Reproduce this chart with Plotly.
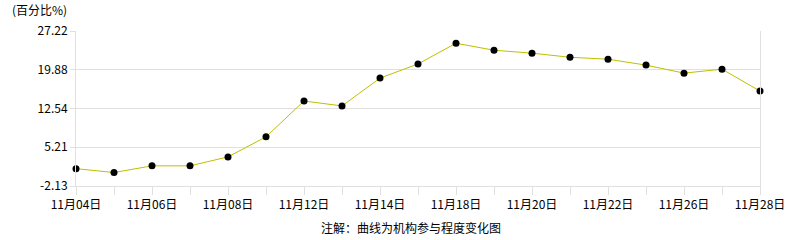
import plotly.graph_objects as go

dates = ["11月04日", "11月05日", "11月06日", "11月07日", "11月08日", "11月11日", "11月12日",
         "11月13日", "11月14日", "11月15日", "11月18日", "11月19日", "11月20日", "11月21日",
         "11月22日", "11月25日", "11月26日", "11月27日", "11月28日"]
values = [1.15, 0.42, 1.69, 1.69, 3.38, 7.18, 13.97, 13.03, 18.30, 20.98, 24.90, 23.58,
          23.02, 22.25, 21.88, 20.76, 19.24, 19.99, 15.85]
y_ticks = [-2.13, 5.2075, 12.545, 19.8825, 27.22]
y_tick_labels = ["-2.13", "5.21", "12.54", "19.88", "27.22"]
x_tick_labels = [d if i % 2 == 0 else "" for i, d in enumerate(dates)]

grid = "#e0e0e0"
font = "SimSun, 'Noto Sans CJK SC', sans-serif"

fig = go.Figure(go.Scatter(
    x=dates, y=values, mode="lines+markers",
    line=dict(color="#bfbf00", width=1),
    marker=dict(color="#000000", size=7),
    cliponaxis=False,
))

fig.update_layout(
    width=786, height=240,
    margin=dict(l=76, r=26, t=31, b=54),
    paper_bgcolor="white", plot_bgcolor="white",
    showlegend=False,
    font=dict(family=font, size=12, color="#000000"),
    xaxis=dict(
        type="category", range=[0, len(dates) - 1],
        tickvals=dates, ticktext=x_tick_labels, automargin=False,
        showgrid=False, showline=True, linecolor=grid, linewidth=1,
        ticks="outside", ticklen=8, tickcolor=grid, tickwidth=1,
        tickfont=dict(family=font, size=12, color="#000"),
        zeroline=False, mirror=False,
    ),
    yaxis=dict(
        range=[-2.13, 27.22], tickvals=y_ticks, ticktext=y_tick_labels, automargin=False,
        showgrid=True, gridcolor=grid, gridwidth=1,
        showline=True, linecolor=grid, linewidth=1, mirror=True,
        ticks="outside", ticklen=5, tickcolor=grid,
        tickfont=dict(family=font, size=12, color="#000"),
        zeroline=False,
    ),
    annotations=[
        dict(text="(百分比%)", xref="paper", yref="paper", x=-76/684 + 10/684, y=1 + 22/155,
             xanchor="left", yanchor="middle", showarrow=False,
             font=dict(family=font, size=12, color="#000")),
        dict(text="注解：曲线为机构参与程度变化图", xref="paper", yref="paper",
             x=(411 - 76) / 684, y=-(227 - 186) / 155,
             xanchor="center", yanchor="middle", showarrow=False,
             font=dict(family=font, size=12, color="#000")),
    ],
)

fig.write_html("out.html")
